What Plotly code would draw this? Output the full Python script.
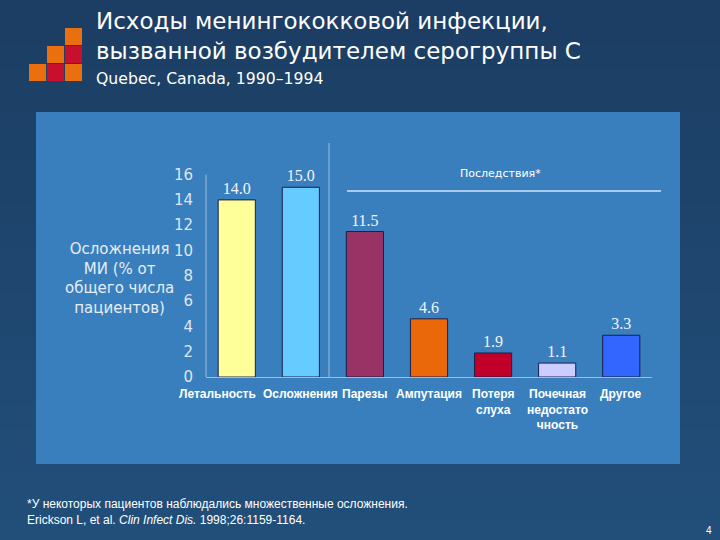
import plotly.graph_objects as go

categories = [
    "Летальность",
    "Осложнения",
    "Парезы",
    "Ампутация",
    "Потеря<br>слуха",
    "Почечная<br>недостато<br>чность",
    "Другое",
]
values = [14.0, 15.0, 11.5, 4.6, 1.9, 1.1, 3.3]
value_labels = ["14.0", "15.0", "11.5", "4.6", "1.9", "1.1", "3.3"]
bar_colors = ["#ffff99", "#66ccff", "#993366", "#ea670a", "#c0002a", "#ccccff", "#3366ff"]
y_ticks = [0, 2, 4, 6, 8, 10, 12, 14, 16]

W, H = 720, 540
L, R, T, B = 206, 68, 143, 163
PW = W - L - R
PH = H - T - B


def px_x(x):
    return (x - L) / PW


def px_y(y):
    return (H - B - y) / PH


fig = go.Figure()

fig.add_trace(
    go.Bar(
        x=categories,
        y=values,
        marker=dict(color=bar_colors, line=dict(color="#1a1f4a", width=1)),
        width=0.58,
        text=value_labels,
        textposition="outside",
        textfont=dict(family="Liberation Serif", size=16, color="#f2f4f8"),
        cliponaxis=False,
        hoverinfo="skip",
    )
)

shapes = []

# background gradient
steps = 24
for i in range(steps):
    t = i / (steps - 1)
    r = int(0x1c + (0x22 - 0x1c) * t)
    g = int(0x3e + (0x4f - 0x3e) * t)
    b = int(0x64 + (0x7a - 0x64) * t)
    shapes.append(dict(
        type="rect", xref="paper", yref="paper", layer="below",
        x0=px_x(0), x1=px_x(W),
        y0=px_y(H * i / steps), y1=px_y(H * (i + 1) / steps + 1),
        fillcolor=f"rgb({r},{g},{b})", line=dict(width=0),
    ))

# light panel
shapes.append(dict(
    type="rect", xref="paper", yref="paper", layer="below",
    x0=px_x(36), x1=px_x(680), y0=px_y(464), y1=px_y(112),
    fillcolor="#3a7fbd", line=dict(width=0),
))

# logo squares
logo = [
    (65, 28, "#ea700f"),
    (47, 46, "#ea700f"), (65, 46, "#c8102e"),
    (29, 64, "#ea700f"), (47, 64, "#c8102e"), (65, 64, "#ea700f"),
]
for x, y, c in logo:
    shapes.append(dict(
        type="rect", xref="paper", yref="paper", layer="above",
        x0=px_x(x), x1=px_x(x + 17), y0=px_y(y + 17), y1=px_y(y),
        fillcolor=c, line=dict(width=0),
    ))

# y axis line (0..16)
shapes.append(dict(
    type="line", xref="paper", yref="y",
    x0=0, x1=0, y0=0, y1=16,
    line=dict(color="#9fbbd8", width=1),
))
# separator between groups
shapes.append(dict(
    type="line", xref="paper", yref="paper",
    x0=px_x(329), x1=px_x(329), y0=0, y1=1,
    line=dict(color="#9fbbd8", width=1),
))
# "Последствия" bracket line
shapes.append(dict(
    type="line", xref="paper", yref="paper",
    x0=px_x(347), x1=px_x(661), y0=px_y(191), y1=px_y(191),
    line=dict(color="#a9c9ec", width=2),
))

annotations = [
    dict(text="Исходы менингококковой инфекции,<br>вызванной возбудителем серогруппы C",
         x=px_x(94), y=px_y(6), xanchor="left", yanchor="top", align="left",
         font=dict(family="DejaVu Sans", size=23, color="white")),
    dict(text="Quebec, Canada, 1990–1994",
         x=px_x(94), y=px_y(78), xanchor="left", yanchor="middle", align="left",
         font=dict(family="DejaVu Sans", size=15.7, color="white")),
    dict(text="Осложнения<br>МИ (% от<br>общего числа<br>пациентов)",
         x=px_x(119), y=px_y(278), xanchor="center", yanchor="middle", align="center",
         font=dict(family="DejaVu Sans", size=15, color="#e6edf5")),
    dict(text="Последствия*",
         x=px_x(500), y=px_y(173), xanchor="center", yanchor="middle",
         font=dict(family="DejaVu Sans", size=11, color="white")),
    dict(text="*У некоторых пациентов наблюдались множественные осложнения.<br>"
              "Erickson L, et al. <i>Clin Infect Dis.</i> 1998;26:1159-1164.",
         x=px_x(25), y=px_y(512), xanchor="left", yanchor="middle", align="left",
         font=dict(family="Liberation Sans", size=12, color="white")),
    dict(text="4", x=px_x(709), y=px_y(530), xanchor="center", yanchor="middle",
         font=dict(family="Liberation Sans", size=10, color="white")),
]
for a in annotations:
    a.update(xref="paper", yref="paper", showarrow=False)

# category labels under the axis (first one nudged left as in the original)
label_shift = {0: -19}
for i, cat in enumerate(categories):
    annotations.append(dict(
        text=cat, x=cat, xref="x", y=0, yref="paper",
        xanchor="center", yanchor="top", yshift=-8, xshift=label_shift.get(i, 0),
        showarrow=False, align="center",
        font=dict(family="Liberation Sans", size=12, color="white", weight="bold"),
    ))

fig.update_layout(
    width=W,
    height=H,
    margin=dict(l=L, r=R, t=T, b=B, pad=0, autoexpand=False),
    paper_bgcolor="#1f4670",
    plot_bgcolor="rgba(0,0,0,0)",
    showlegend=False,
    shapes=shapes,
    annotations=annotations,
    bargap=0.42,
)
fig.update_xaxes(
    range=[-0.48, 6.48],
    automargin=False,
    showticklabels=False,
    showgrid=False,
    showline=True,
    linecolor="#9fbbd8",
    linewidth=1,
    ticks="",
)
fig.update_yaxes(
    range=[0, 18.5],
    automargin=False,
    tickvals=y_ticks,
    showgrid=False,
    zeroline=False,
    showline=False,
    ticks="",
    ticklabelstandoff=12,
    tickfont=dict(family="DejaVu Sans", size=15, color="#dde6f0"),
)

fig.write_html(
    "out.html",
    config={"displayModeBar": False},
    post_script="document.body.style.margin='0';",
)
